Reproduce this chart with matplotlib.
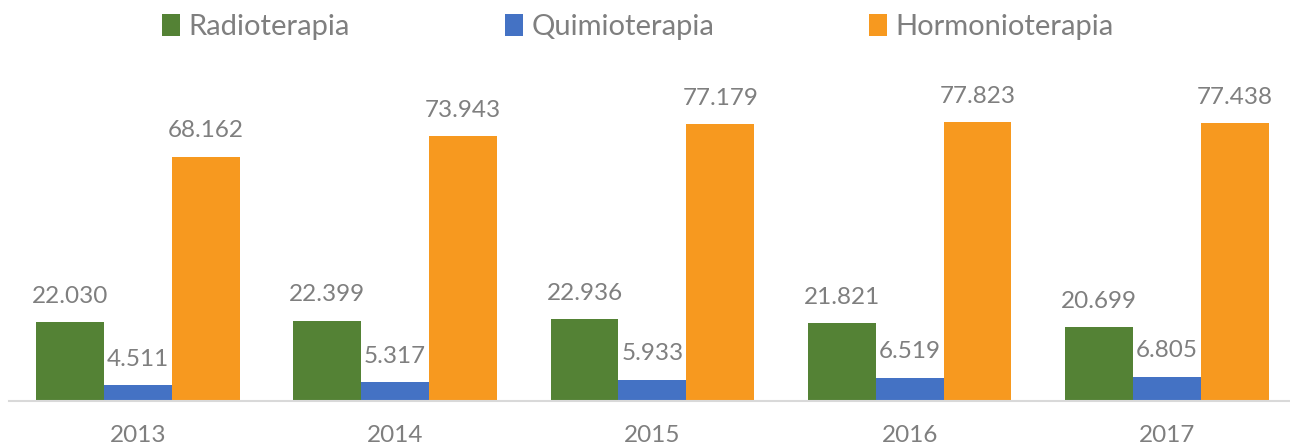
import matplotlib.pyplot as plt
import numpy as np

years = ["2013", "2014", "2015", "2016", "2017"]
series_names = ["Radioterapia", "Quimioterapia", "Hormonioterapia"]
radioterapia = [22030, 22399, 22936, 21821, 20699]
quimioterapia = [4511, 5317, 5933, 6519, 6805]
hormonioterapia = [68162, 73943, 77179, 77823, 77438]

colors = ["#548235", "#4472C4", "#F7991F"]
gray = "#7F7F7F"

plt.rcParams['font.family'] = ['Lato', 'DejaVu Sans']

fig = plt.figure(figsize=(12.9, 4.47), dpi=100)
ax = fig.add_axes([9.4 / 1290, 46 / 447, 1286 / 1290, 322.6 / 447])

x = np.arange(len(years))
w = 0.264
data = [radioterapia, quimioterapia, hormonioterapia]
for i, (vals, name, c) in enumerate(zip(data, series_names, colors)):
    bars = ax.bar(x + (i - 1) * w, vals, width=w, color=c, label=name)
    for b, v in zip(bars, vals):
        ax.annotate(f"{v:,}".replace(",", "."),
                    (b.get_x() + b.get_width() / 2, b.get_height()),
                    xytext=(0, 11), textcoords="offset points",
                    ha="center", va="bottom", fontsize=17.5, color=gray)

ax.set_xlim(-0.5, len(years) - 0.5)
ax.set_ylim(0, 90000)
ax.set_xticks(x)
ax.set_xticklabels(years, fontsize=17.5, color=gray)
ax.tick_params(axis="x", length=0, pad=17)
ax.set_yticks([])
for s in ["top", "right", "left"]:
    ax.spines[s].set_visible(False)
ax.spines["bottom"].set_color("#D9D9D9")
ax.spines["bottom"].set_linewidth(1.5)

leg = fig.legend(loc="center", bbox_to_anchor=(638 / 1290, 1 - 27 / 447), ncol=3,
                 frameon=False, fontsize=21, handlelength=0.62, handleheight=0.75,
                 handletextpad=0.3, columnspacing=5.3)
for t in leg.get_texts():
    t.set_color(gray)

fig.savefig("out.png", dpi=100)
